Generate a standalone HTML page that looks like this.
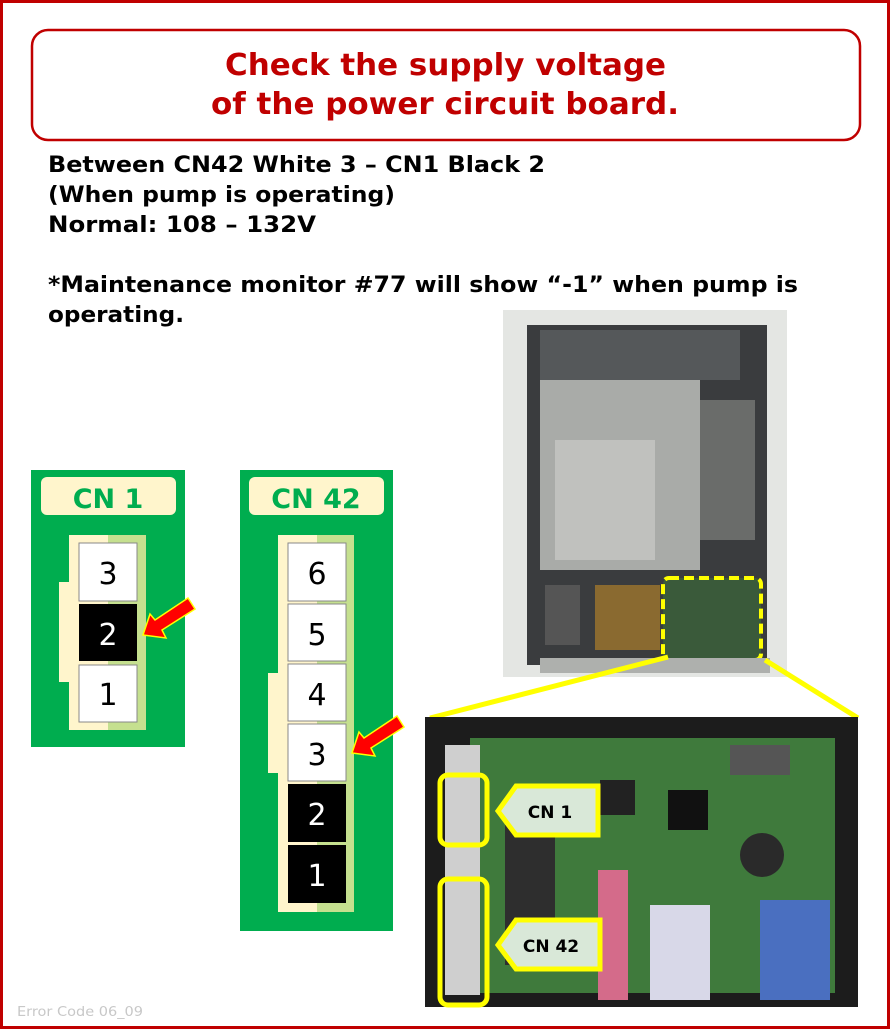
<!DOCTYPE html>
<html><head><meta charset="utf-8"><style>
body{margin:0;width:890px;height:1029px;overflow:hidden;background:#fff}
</style></head><body>
<svg width="890" height="1029" viewBox="0 0 890 1029" xmlns="http://www.w3.org/2000/svg" font-family="DejaVu Sans, Liberation Sans, sans-serif">
<rect x="1.5" y="1.5" width="887" height="1026" fill="#fff" stroke="#c00000" stroke-width="3"/>
<rect x="32" y="30" width="828" height="110" rx="16" fill="#fff" stroke="#c00000" stroke-width="2.5"/>
<text x="225" y="75" textLength="441" lengthAdjust="spacingAndGlyphs" font-size="30" font-weight="bold" fill="#c00000">Check the supply voltage</text>
<text x="211" y="114" textLength="468" lengthAdjust="spacingAndGlyphs" font-size="30" font-weight="bold" fill="#c00000">of the power circuit board.</text>
<g font-size="22" font-weight="bold" fill="#000">
<text x="48" y="172" textLength="497" lengthAdjust="spacingAndGlyphs">Between CN42 White 3 – CN1 Black 2</text>
<text x="48" y="202" textLength="347" lengthAdjust="spacingAndGlyphs">(When pump is operating)</text>
<text x="48" y="232" textLength="268" lengthAdjust="spacingAndGlyphs">Normal: 108 – 132V</text>
<text x="48" y="292" textLength="750" lengthAdjust="spacingAndGlyphs">*Maintenance monitor #77 will show “-1” when pump is</text>
<text x="48" y="322" textLength="136" lengthAdjust="spacingAndGlyphs">operating.</text>
</g>
<!-- CN1 -->
<rect x="31" y="470" width="154" height="277" fill="#00ad4f"/>
<rect x="41" y="477" width="135" height="38" rx="6" fill="#fff5cc"/>
<text x="108" y="508" text-anchor="middle" font-size="27" font-weight="bold" fill="#00ad4f">CN 1</text>
<rect x="59" y="582" width="12" height="100" fill="#fff5cc"/>
<rect x="69" y="535" width="39" height="195" fill="#fff5cc"/>
<rect x="108" y="535" width="38" height="195" fill="#c5e08f"/>
<rect x="79" y="543" width="58" height="58" fill="#fff" stroke="#888"/>
<rect x="79" y="604" width="58" height="57" fill="#000"/>
<rect x="79" y="665" width="58" height="57" fill="#fff" stroke="#888"/>
<g font-size="30" text-anchor="middle"><text x="108" y="584">3</text><text x="108" y="645" fill="#fff">2</text><text x="108" y="705">1</text></g>
<!-- CN42 -->
<rect x="240" y="470" width="153" height="461" fill="#00ad4f"/>
<rect x="249" y="477" width="135" height="38" rx="6" fill="#fff5cc"/>
<text x="316" y="508" text-anchor="middle" font-size="27" font-weight="bold" fill="#00ad4f">CN 42</text>
<rect x="268" y="673" width="12" height="100" fill="#fff5cc"/>
<rect x="278" y="535" width="39" height="377" fill="#fff5cc"/>
<rect x="317" y="535" width="37" height="377" fill="#c5e08f"/>
<rect x="288" y="543" width="58" height="58" fill="#fff" stroke="#888"/>
<rect x="288" y="604" width="58" height="57" fill="#fff" stroke="#888"/>
<rect x="288" y="664" width="58" height="57" fill="#fff" stroke="#888"/>
<rect x="288" y="724" width="58" height="57" fill="#fff" stroke="#888"/>
<rect x="288" y="784" width="58" height="58" fill="#000"/>
<rect x="288" y="845" width="58" height="58" fill="#000"/>
<g font-size="30" text-anchor="middle"><text x="317" y="584">6</text><text x="317" y="645">5</text><text x="317" y="705">4</text><text x="317" y="765">3</text><text x="317" y="825" fill="#fff">2</text><text x="317" y="886" fill="#fff">1</text></g>
<!-- arrows -->
<polygon points="143,635 150,614 155,620 188,598 195,609 162,630 166,638" fill="#ff0000" stroke="#ffff00" stroke-width="1.5"/>
<polygon points="352,753 359,732 364,738 397,716 404,727 371,748 375,756" fill="#ff0000" stroke="#ffff00" stroke-width="1.5"/>
<!-- top photo -->
<rect x="503" y="310" width="284" height="367" fill="#e4e6e3"/>
<rect x="527" y="325" width="240" height="340" fill="#3a3c3e"/>
<rect x="540" y="330" width="200" height="50" fill="#55585a"/>
<rect x="540" y="380" width="160" height="190" fill="#a9aba8"/>
<rect x="555" y="440" width="100" height="120" fill="#c0c1be"/>
<rect x="700" y="400" width="55" height="140" fill="#6a6c6a"/>
<rect x="595" y="585" width="65" height="65" fill="#8a6a30"/>
<rect x="545" y="585" width="35" height="60" fill="#555"/>
<rect x="663" y="578" width="98" height="82" fill="#3a5a3a" stroke="#ffff00" stroke-width="4" stroke-dasharray="10,5" rx="6"/>
<rect x="540" y="658" width="230" height="15" fill="#aeb0ad"/>
<!-- zoom lines -->
<line x1="430" y1="718" x2="668" y2="657" stroke="#ffff00" stroke-width="5"/>
<line x1="765" y1="660" x2="858" y2="718" stroke="#ffff00" stroke-width="5"/>
<!-- bottom photo -->
<rect x="425" y="717" width="433" height="290" fill="#1c1c1c"/>
<rect x="470" y="738" width="365" height="255" fill="#3f7a3c"/>
<rect x="600" y="780" width="35" height="35" fill="#222"/>
<rect x="668" y="790" width="40" height="40" fill="#111"/>
<circle cx="762" cy="855" r="22" fill="#2a2a2a"/>
<rect x="730" y="745" width="60" height="30" fill="#555"/>
<rect x="505" y="825" width="50" height="140" fill="#2e2e2e"/>
<rect x="445" y="745" width="35" height="250" fill="#cfcfcf"/>
<rect x="598" y="870" width="30" height="130" fill="#d46b8a"/>
<rect x="650" y="905" width="60" height="95" fill="#d8d8e8"/>
<rect x="760" y="900" width="70" height="100" fill="#4a6fc0"/>
<rect x="440" y="775" width="47" height="70" rx="8" fill="none" stroke="#ffff00" stroke-width="5"/>
<rect x="440" y="879" width="47" height="126" rx="8" fill="none" stroke="#ffff00" stroke-width="5"/>
<polygon points="498,811 516,786 598,786 598,835 516,835" fill="#d9e8d8" stroke="#ffff00" stroke-width="5"/>
<polygon points="498,945 516,920 600,920 600,969 516,969" fill="#d9e8d8" stroke="#ffff00" stroke-width="5"/>
<text x="550" y="818" text-anchor="middle" font-size="17" font-weight="bold">CN 1</text>
<text x="551" y="952" text-anchor="middle" font-size="17" font-weight="bold">CN 42</text>
<text x="17" y="1016" font-size="13" fill="#c8c8c8" textLength="126" lengthAdjust="spacingAndGlyphs">Error Code 06_09</text>
</svg>
</body></html>
